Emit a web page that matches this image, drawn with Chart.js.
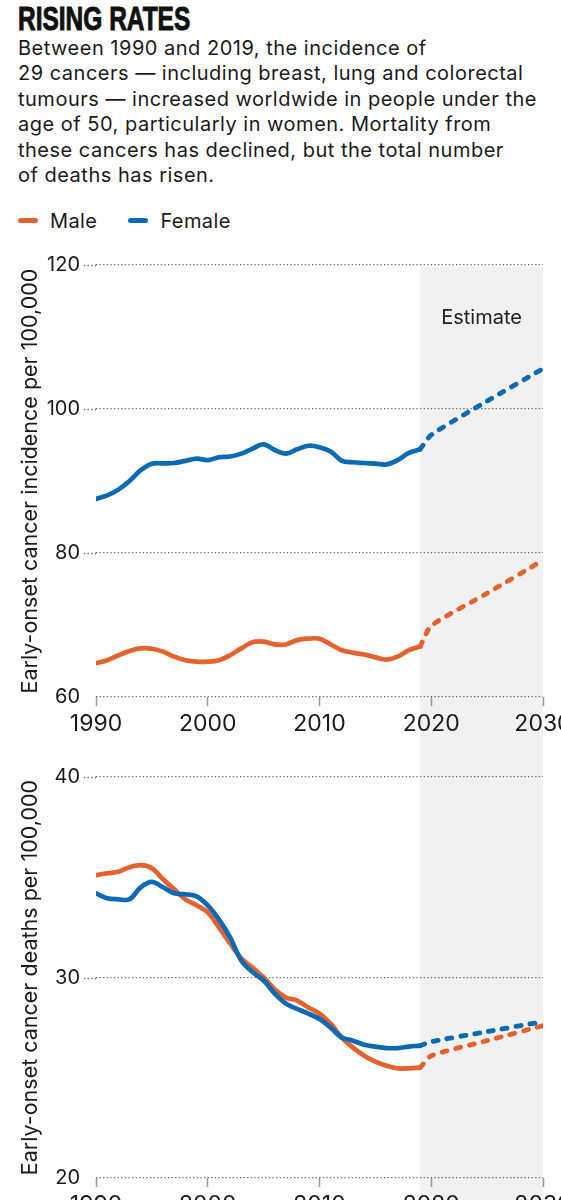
<!DOCTYPE html>
<html>
<head>
<meta charset="utf-8">
<script src="https://cdn.jsdelivr.net/npm/chart.js@4.4.0/dist/chart.umd.min.js"></script>
<style>
html, body { margin: 0; padding: 0; background: #fff; }
body { width: 561px; height: 1200px; overflow: hidden; position: relative; font-family: Inter, "Noto Sans", sans-serif; color: #1a1a1a; }
#title { position: absolute; left: 18px; top: -1px; margin: 0; font-family: "Liberation Sans Narrow", "Liberation Sans", sans-serif; font-weight: bold; font-size: 34px; line-height: 38px; transform-origin: left top; transform: scaleX(0.72); color: #111; -webkit-text-stroke: 1px #111; white-space: nowrap; }
#text { position: absolute; left: 18px; top: 36px; margin: 0; font-size: 20px; line-height: 25.4px; letter-spacing: 0.5px; }
.legend { position: absolute; top: 209px; left: 18px; font-size: 20px; line-height: 24px; letter-spacing: 0.4px; }
.legend span.item { display: inline-block; margin-right: 31px; }
.legend i { display: inline-block; width: 20px; height: 4.5px; border-radius: 3px; vertical-align: middle; margin-right: 12px; position: relative; top: -2px; }
canvas { position: absolute; left: 0; }
#c1 { top: 240px; }
#c2 { top: 750px; }
</style>
</head>
<body>
<h1 id="title">RISING RATES</h1>
<p id="text">Between 1990 and 2019, the incidence of<br>29 cancers — including breast, lung and colorectal<br>tumours — increased worldwide in people under the<br>age of 50, particularly in women. Mortality from<br>these cancers has declined, but the total number<br>of deaths has risen.</p>
<div class="legend"><span class="item"><i style="background:#e4622d"></i>Male</span><span class="item"><i style="background:#0b6ab5"></i>Female</span></div>
<canvas id="c1" width="561" height="510"></canvas>
<canvas id="c2" width="561" height="480"></canvas>
<script>
// observed years 1990-2019
var years = [1990, 1991, 1992, 1993, 1994, 1995, 1996, 1997, 1998, 1999,
             2000, 2001, 2002, 2003, 2004, 2005, 2006, 2007, 2008, 2009,
             2010, 2011, 2012, 2013, 2014, 2015, 2016, 2017, 2018, 2019];

var incidenceFemale = [87.5, 88.0, 88.8, 90.0, 91.5, 92.4, 92.45, 92.5, 92.8, 93.1,
                       92.9, 93.3, 93.4, 93.8, 94.5, 95.1, 94.3, 93.8, 94.4, 94.9,
                       94.7, 94.1, 92.8, 92.6, 92.5, 92.4, 92.3, 92.9, 93.9, 94.4];
var incidenceMale = [64.7, 65.1, 65.8, 66.4, 66.75, 66.7, 66.3, 65.6, 65.1, 64.9,
                     64.9, 65.1, 65.8, 66.75, 67.6, 67.7, 67.3, 67.3, 67.9, 68.1,
                     68.1, 67.3, 66.5, 66.15, 65.9, 65.5, 65.2, 65.6, 66.5, 67.0];

var deathsMale = [35.1, 35.2, 35.27, 35.5, 35.6, 35.45, 34.9, 34.4, 33.9, 33.6,
                  33.25, 32.5, 31.7, 30.95, 30.5, 30.0, 29.4, 29.0, 28.85, 28.5,
                  28.2, 27.7, 27.0, 26.5, 26.1, 25.8, 25.6, 25.47, 25.47, 25.5];
var deathsFemale = [34.2, 33.95, 33.9, 33.9, 34.5, 34.77, 34.5, 34.2, 34.15, 34.05,
                    33.6, 32.9, 32.0, 30.85, 30.27, 29.85, 29.2, 28.7, 28.43, 28.2,
                    27.93, 27.5, 27.0, 26.85, 26.65, 26.55, 26.48, 26.48, 26.55, 26.6];

// estimates 2019-2030
var estYears = [2019, 2020, 2025, 2030];
var estIncFemale = [94.4, 96.4, 101.1, 105.6];
var estIncMale = [67.0, 69.9, 74.4, 79.0];
var estDeathsFemale = [26.6, 26.8, 27.3, 27.8];
var estDeathsMale = [25.5, 26.1, 26.85, 27.6];

var xTicks = [1990, 2000, 2010, 2020, 2030];

var orange = '#e4622d';
var blue = '#0b6ab5';
var font = 'Inter, "Noto Sans", sans-serif';

function pts(xs, ys) {
    return xs.map(function (x, i) { return { x: x, y: ys[i] }; });
}

function solid(label, xs, ys, color) {
    return { label: label, data: pts(xs, ys), borderColor: color, borderWidth: 4.7,
             pointRadius: 0, tension: 0.35, borderCapStyle: 'round', borderJoinStyle: 'round', fill: false };
}
function dashed(label, xs, ys, color) {
    return { label: label, data: pts(xs, ys), borderColor: color, borderWidth: 4.8,
             pointRadius: 0, tension: 0.2, borderDash: [5, 9], borderCapStyle: 'round', fill: false };
}

// grey band behind the estimate years, plus short grid stubs left of the plot
var estimateBand = {
    id: 'estimateBand',
    beforeDraw: function (chart, args, opts) {
        var ctx = chart.ctx, x = chart.scales.x, y = chart.scales.y;
        var x0 = x.getPixelForValue(2019), x1 = x.getPixelForValue(2030);
        var top = opts.fromTop ? chart.chartArea.top + 2 : 0;
        ctx.save();
        ctx.fillStyle = '#f1f1f1';
        ctx.fillRect(x0, top, x1 - x0, chart.height - top);
        if (opts.label) {
            ctx.fillStyle = '#222';
            ctx.font = '20px ' + font;
            ctx.textAlign = 'center';
            ctx.textBaseline = 'middle';
            ctx.fillText(opts.label, (x0 + x1) / 2, chart.chartArea.top + 53);
        }
        ctx.strokeStyle = '#666';
        ctx.lineWidth = 1.3;
        ctx.setLineDash([1.3, 2.3]);
        y.ticks.forEach(function (t) {
            if (t.value === y.min) return;
            var py = Math.round(y.getPixelForValue(t.value)) + 0.5;
            ctx.beginPath();
            ctx.moveTo(84, py);
            ctx.lineTo(chart.chartArea.left, py);
            ctx.stroke();
        });
        ctx.restore();
    }
};

function makeOptions(yMin, yMax, step, title, xHeight, topPad, isTop) {
    return {
        responsive: false,
        animation: false,
        events: [],
        layout: { padding: { top: topPad, right: 18, left: 0, bottom: 0 }, autoPadding: false },
        plugins: { legend: { display: false }, tooltip: { enabled: false },
                   estimateBand: { fromTop: isTop, label: isTop ? 'Estimate' : '' } },
        scales: {
            x: {
                type: 'linear', min: 1990, max: 2030,
                afterBuildTicks: function (s) { s.ticks = xTicks.map(function (v) { return { value: v }; }); },
                afterFit: function (s) { s.height = xHeight; s.paddingLeft = 0; s.paddingRight = 0; },
                grid: { display: true, drawOnChartArea: false, drawTicks: true, tickLength: 9, tickColor: '#999', tickWidth: 1.5 },
                border: { display: false },
                ticks: { color: '#1a1a1a', font: { family: font, size: 23 }, padding: 4, maxRotation: 0,
                         callback: function (v) { return String(v); } }
            },
            y: {
                min: yMin, max: yMax,
                afterFit: function (s) { s.width = 96; s.paddingTop = 0; s.paddingBottom = 0; },
                ticks: { stepSize: step, color: '#1a1a1a', padding: 16, font: { family: font, size: 20 } },
                grid: { drawTicks: false, color: '#666', lineWidth: 1.3 },
                border: { display: false, dash: [1.3, 2.3] },
                title: { display: true, text: title, color: '#1a1a1a', padding: { top: 18, bottom: 0 },
                         font: { family: font, size: 21.5 } }
            }
        }
    };
}

new Chart(document.getElementById('c1'), {
    type: 'line',
    data: { datasets: [
        solid('Female', years, incidenceFemale, blue),
        dashed('Female estimate', estYears, estIncFemale, blue),
        solid('Male', years, incidenceMale, orange),
        dashed('Male estimate', estYears, estIncMale, orange)
    ] },
    options: makeOptions(60, 120, 20, 'Early-onset cancer incidence per 100,000', 53, 25, true),
    plugins: [estimateBand]
});

new Chart(document.getElementById('c2'), {
    type: 'line',
    data: { datasets: [
        solid('Female', years, deathsFemale, blue),
        dashed('Female estimate', estYears, estDeathsFemale, blue),
        solid('Male', years, deathsMale, orange),
        dashed('Male estimate', estYears, estDeathsMale, orange)
    ] },
    options: makeOptions(20, 40, 10, 'Early-onset cancer deaths per 100,000', 52, 27, false),
    plugins: [estimateBand]
});
</script>
</body>
</html>
